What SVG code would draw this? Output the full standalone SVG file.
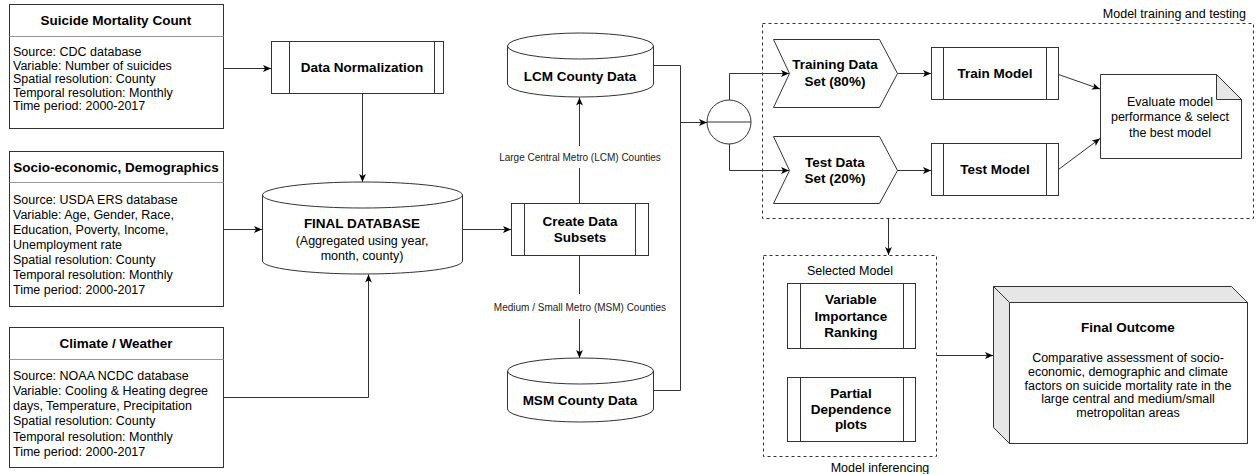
<svg xmlns="http://www.w3.org/2000/svg" width="1257" height="474" viewBox="0 0 1257 474">
<style>
text{font-family:"Liberation Sans",Arial,Helvetica,sans-serif;fill:#000}
.h{font-size:13.5px;font-weight:bold;text-anchor:middle}
.b{font-size:12.5px}
.c{font-size:12.5px;text-anchor:middle}
.s{font-size:10px;text-anchor:middle;fill:#222}
.box{fill:#fff;stroke:#333;stroke-width:1}
.div{stroke:#999;stroke-width:1}
.in{stroke:#333;stroke-width:1;fill:none}
.edge{fill:none;stroke:#333;stroke-width:1}
.dash{fill:none;stroke:#333;stroke-width:1;stroke-dasharray:3 3}
.gray{fill:#e6e6e6;stroke:#333;stroke-width:1}
</style>
<defs>
<marker id="arr" markerUnits="userSpaceOnUse" markerWidth="9" markerHeight="9" refX="8" refY="4" orient="auto">
<path d="M0,0.6 L8,4 L0,7.4 L2,4 Z" fill="#000"/>
</marker>
</defs>

<g id="suicide-mortality">
<rect class="box" x="9.5" y="4.5" width="214" height="124"/>
<line class="div" x1="9.5" y1="36.5" x2="223.5" y2="36.5"/>
<text class="h" x="116" y="25">Suicide Mortality Count</text>
<text class="b" x="13" y="56">Source: CDC database</text>
<text class="b" x="13" y="69.5">Variable: Number of suicides</text>
<text class="b" x="13" y="83">Spatial resolution: County</text>
<text class="b" x="13" y="96.5">Temporal resolution: Monthly</text>
<text class="b" x="13" y="110">Time period: 2000-2017</text>
</g>

<g id="socio-economic">
<rect class="box" x="9.5" y="151.5" width="214" height="155"/>
<line class="div" x1="9.5" y1="182.5" x2="223.5" y2="182.5"/>
<text class="h" x="116" y="172">Socio-economic, Demographics</text>
<text class="b" x="13" y="203.5">Source: USDA ERS database</text>
<text class="b" x="13" y="218.5">Variable: Age, Gender, Race,</text>
<text class="b" x="13" y="233.5">Education, Poverty, Income,</text>
<text class="b" x="13" y="248.5">Unemployment rate</text>
<text class="b" x="13" y="263.5">Spatial resolution: County</text>
<text class="b" x="13" y="278.5">Temporal resolution: Monthly</text>
<text class="b" x="13" y="293.5">Time period: 2000-2017</text>
</g>

<g id="climate">
<rect class="box" x="9.5" y="327.5" width="214" height="140"/>
<line class="div" x1="9.5" y1="359.5" x2="223.5" y2="359.5"/>
<text class="h" x="116" y="348">Climate / Weather</text>
<text class="b" x="13" y="379.5">Source: NOAA NCDC database</text>
<text class="b" x="13" y="394.8">Variable: Cooling &amp; Heating degree</text>
<text class="b" x="13" y="410.1">days, Temperature, Precipitation</text>
<text class="b" x="13" y="425.4">Spatial resolution: County</text>
<text class="b" x="13" y="440.7">Temporal resolution: Monthly</text>
<text class="b" x="13" y="456">Time period: 2000-2017</text>
</g>

<g id="data-normalization">
<rect class="box" x="271.5" y="41.5" width="172" height="52"/>
<line class="in" x1="289.5" y1="41.5" x2="289.5" y2="93.5"/>
<line class="in" x1="434.5" y1="41.5" x2="434.5" y2="93.5"/>
<text class="h" x="362" y="71.5">Data Normalization</text>
</g>

<g id="final-database">
<path class="box" d="M262.5,195 A100,13 0 0 1 462.5,195 L462.5,261 A100,13 0 0 1 262.5,261 Z"/>
<path class="in" d="M262.5,195 A100,13 0 0 0 462.5,195"/>
<text class="h" x="362" y="228">FINAL DATABASE</text>
<text class="c" x="362" y="244.5">(Aggregated using year,</text>
<text class="c" x="362" y="259.5">month, county)</text>
</g>

<g id="create-data-subsets">
<rect class="box" x="511.5" y="203.5" width="137" height="52"/>
<line class="in" x1="524.5" y1="203.5" x2="524.5" y2="255.5"/>
<line class="in" x1="635.5" y1="203.5" x2="635.5" y2="255.5"/>
<text class="h" x="580" y="226">Create Data</text>
<text class="h" x="580" y="242">Subsets</text>
</g>

<g id="lcm-county-data">
<path class="box" d="M507.5,46 A73,13 0 0 1 653.5,46 L653.5,84 A73,13 0 0 1 507.5,84 Z"/>
<path class="in" d="M507.5,46 A73,13 0 0 0 653.5,46"/>
<text class="h" x="580" y="81">LCM County Data</text>
</g>

<g id="msm-county-data">
<path class="box" d="M507.5,371 A73,13 0 0 1 653.5,371 L653.5,409 A73,13 0 0 1 507.5,409 Z"/>
<path class="in" d="M507.5,371 A73,13 0 0 0 653.5,371"/>
<text class="h" x="580" y="405">MSM County Data</text>
</g>

<g id="split">
<circle class="box" cx="729" cy="122" r="22"/>
<line class="in" x1="707" y1="122" x2="751" y2="122"/>
</g>

<g id="model-training-group">
<rect class="dash" x="762.5" y="23.5" width="491" height="195"/>
<text class="b" x="1246" y="18" text-anchor="end">Model training and testing</text>
</g>

<g id="training-data-set">
<polygon class="box" points="773.5,39.5 879.5,39.5 897.5,73.5 879.5,107.5 773.5,107.5 789.5,73.5"/>
<text class="h" x="835" y="69">Training Data</text>
<text class="h" x="835" y="85.5">Set (80%)</text>
</g>

<g id="test-data-set">
<polygon class="box" points="773.5,136.5 879.5,136.5 897.5,170.5 879.5,203.5 773.5,203.5 789.5,170.5"/>
<text class="h" x="835" y="166.5">Test Data</text>
<text class="h" x="835" y="183">Set (20%)</text>
</g>

<g id="train-model">
<rect class="box" x="931.5" y="47.5" width="127" height="52"/>
<line class="in" x1="943.5" y1="47.5" x2="943.5" y2="99.5"/>
<line class="in" x1="1046.5" y1="47.5" x2="1046.5" y2="99.5"/>
<text class="h" x="995" y="78">Train Model</text>
</g>

<g id="test-model">
<rect class="box" x="931.5" y="143.5" width="127" height="52"/>
<line class="in" x1="943.5" y1="143.5" x2="943.5" y2="195.5"/>
<line class="in" x1="1046.5" y1="143.5" x2="1046.5" y2="195.5"/>
<text class="h" x="995" y="174">Test Model</text>
</g>

<g id="evaluate-model">
<path class="box" d="M1100.5,74.5 L1216.5,74.5 L1241.5,99.5 L1241.5,158.5 L1100.5,158.5 Z"/>
<path class="gray" d="M1216.5,74.5 L1216.5,99.5 L1241.5,99.5 Z"/>
<text class="c" x="1170" y="105.5">Evaluate model</text>
<text class="c" x="1170" y="121">performance &amp; select</text>
<text class="c" x="1170" y="136.5">the best model</text>
</g>

<g id="model-inferencing-group">
<rect class="dash" x="763.5" y="255.5" width="173" height="201"/>
<text class="c" x="850" y="274.5">Selected Model</text>
<text class="c" x="880" y="472">Model inferencing</text>
</g>

<g id="variable-importance">
<rect class="box" x="787.5" y="283.5" width="128" height="65"/>
<line class="in" x1="800.5" y1="283.5" x2="800.5" y2="348.5"/>
<line class="in" x1="903.5" y1="283.5" x2="903.5" y2="348.5"/>
<text class="h" x="851" y="304">Variable</text>
<text class="h" x="851" y="320.5">Importance</text>
<text class="h" x="851" y="337">Ranking</text>
</g>

<g id="partial-dependence">
<rect class="box" x="787.5" y="377.5" width="128" height="64"/>
<line class="in" x1="800.5" y1="377.5" x2="800.5" y2="441.5"/>
<line class="in" x1="903.5" y1="377.5" x2="903.5" y2="441.5"/>
<text class="h" x="851" y="398">Partial</text>
<text class="h" x="851" y="413.5">Dependence</text>
<text class="h" x="851" y="429">plots</text>
</g>

<g id="final-outcome">
<rect class="box" x="1009.5" y="302.5" width="238" height="141"/>
<polygon class="gray" points="993.5,286.5 1231.5,286.5 1247.5,302.5 1009.5,302.5"/>
<polygon class="gray" points="993.5,286.5 1009.5,302.5 1009.5,443.5 993.5,427.5"/>
<text class="h" x="1128" y="332">Final Outcome</text>
<text class="c" x="1128" y="361.5">Comparative assessment of socio-</text>
<text class="c" x="1128" y="375.5">economic, demographic and climate</text>
<text class="c" x="1128" y="389.5">factors on suicide mortality rate in the</text>
<text class="c" x="1128" y="403">large central and medium/small</text>
<text class="c" x="1128" y="417">metropolitan areas</text>
</g>

<g id="connectors">
<path class="edge" d="M223.5,68.5 L271,68.5" marker-end="url(#arr)"/>
<path class="edge" d="M223.5,229.5 L262,229.5" marker-end="url(#arr)"/>
<path class="edge" d="M223.5,397.5 L368.5,397.5 L368.5,274.5" marker-end="url(#arr)"/>
<path class="edge" d="M362.5,93.5 L362.5,182" marker-end="url(#arr)"/>
<path class="edge" d="M462.5,229.5 L511,229.5" marker-end="url(#arr)"/>
<path class="edge" d="M579.5,203.5 L579.5,97.5" marker-end="url(#arr)"/>
<path class="edge" d="M579.5,255.5 L579.5,358" marker-end="url(#arr)"/>
<path class="edge" d="M653.5,65.5 L680.5,65.5 L680.5,390.5 L653.5,390.5"/>
<path class="edge" d="M680.5,122.5 L707,122.5" marker-end="url(#arr)"/>
<path class="edge" d="M729.5,100 L729.5,73.5 L789,73.5" marker-end="url(#arr)"/>
<path class="edge" d="M729.5,144 L729.5,170.5 L789,170.5" marker-end="url(#arr)"/>
<path class="edge" d="M897.5,73.5 L931,73.5" marker-end="url(#arr)"/>
<path class="edge" d="M897.5,170.5 L931,170.5" marker-end="url(#arr)"/>
<path class="edge" d="M1058.5,74.5 L1100,89" marker-end="url(#arr)"/>
<path class="edge" d="M1058.5,169.5 L1100,138.5" marker-end="url(#arr)"/>
<path class="edge" d="M888.5,218.5 L888.5,255" marker-end="url(#arr)"/>
<path class="edge" d="M936.5,355.5 L993,355.5" marker-end="url(#arr)"/>
<rect x="498" y="146" width="164" height="22" fill="#fff"/>
<text class="s" x="580" y="160.5">Large Central Metro (LCM) Counties</text>
<rect x="493" y="294" width="174" height="25" fill="#fff"/>
<text class="s" x="580" y="310.5">Medium / Small Metro (MSM) Counties</text>
</g>
</svg>
